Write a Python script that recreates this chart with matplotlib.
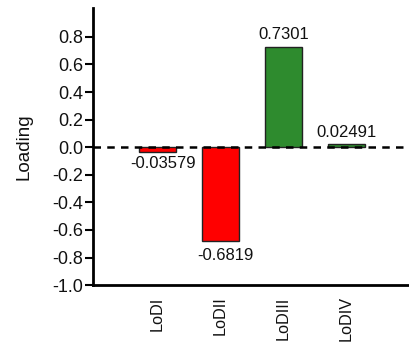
import numpy as np
import matplotlib.pyplot as plt

plt.rcParams['font.family'] = ['Liberation Sans', 'DejaVu Sans']

labels = ['LoDI', 'LoDII', 'LoDIII', 'LoDIV']
loadings = [-0.03579, -0.6819, 0.7301, 0.02491]
value_text = ['-0.03579', '-0.6819', '0.7301', '0.02491']

fig = plt.figure(figsize=(4.09, 3.44), dpi=100)
ax = fig.add_axes([0.227, 0.171, 0.773, 0.806])

x = np.arange(len(labels))
colors = ['#ff0000' if v < 0 else '#2e8b2e' for v in loadings]
ax.bar(x, loadings, width=0.59, color=colors, edgecolor='#222222', linewidth=1.0, zorder=2)
ax.axhline(0, color='black', linestyle=(0, (3, 2.5)), linewidth=1.8, zorder=3)

# value labels: below negative bars, above positive ones
offs = [0.025, 0.05, 0.03, 0.03]
for xi, v, t, o in zip(x, loadings, value_text, offs):
    if v < 0:
        ax.text(xi + 0.08, v - o, t, ha='center', va='top', fontsize=12, color='#111111')
    else:
        ax.text(xi, v + o, t, ha='center', va='bottom', fontsize=12, color='#111111')

ax.set_xlim(-1.03, 4.0)
ax.set_ylim(-1.0, 1.01)
ticks = np.arange(-1.0, 0.81, 0.2)
ax.set_yticks(ticks)
ax.set_yticklabels(['%.1f' % v if abs(v) > 1e-9 else '0.0' for v in ticks])
ax.set_xticks(x)
ax.set_xticklabels(labels, rotation=90)
ax.tick_params(axis='x', length=0, labelsize=11.7, pad=8, labelcolor='#111111')
ax.tick_params(axis='y', length=6, width=1.5, labelsize=13, pad=1, labelcolor='#111111')
ax.set_ylabel('Loading', fontsize=13.5, labelpad=14, color='#111111')

for s in ['top', 'right']:
    ax.spines[s].set_visible(False)
ax.spines['left'].set_linewidth(2)
ax.spines['bottom'].set_linewidth(2)

plt.savefig('out.png', dpi=100)
